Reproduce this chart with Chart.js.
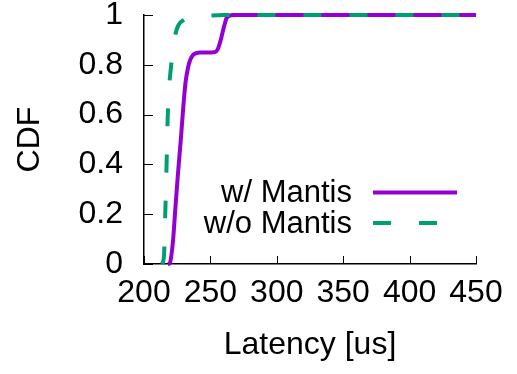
<!DOCTYPE html>
<html>
<head>
<meta charset="utf-8">
<script src="https://cdn.jsdelivr.net/npm/chart.js@4.4.1/dist/chart.umd.min.js"></script>
<style>
  html, body { margin: 0; padding: 0; background: #fff; }
  #wrap { width: 517px; height: 374px; }
</style>
</head>
<body>
<div id="wrap"><canvas id="chartCdf" width="517" height="374"></canvas></div>
<script>
// dados
const latComMantis = [218, 219.4, 220.5, 221.9, 223.7, 225.6, 227.7, 229.4, 231.2, 233.2, 235, 237, 239.5, 242, 247, 253.3, 255.5, 257, 258.5, 259.6, 261, 262.1, 264.5, 267, 450];
const cdfComMantis = [0, 0.003, 0.03, 0.096, 0.23, 0.364, 0.498, 0.618, 0.726, 0.79, 0.822, 0.84, 0.847, 0.849, 0.849, 0.851, 0.862, 0.885, 0.915, 0.94, 0.968, 0.987, 0.997, 1, 1];

const latSemMantis = [213.5, 215, 216, 217, 217.8, 218.8, 220.3, 222, 224, 226, 230, 236, 245, 260, 450];
const cdfSemMantis = [0, 0.03, 0.2, 0.4, 0.58, 0.7, 0.79, 0.87, 0.93, 0.96, 0.98, 0.99, 0.995, 1, 1];

const nomesSeries = ["w/ Mantis", "w/o Mantis"];
const ticksX = [200, 250, 300, 350, 400, 450];
const ticksY = [0, 0.2, 0.4, 0.6, 0.8, 1];

const fonte = "'Liberation Sans', Arial, sans-serif";

function pontos(xs, ys) {
    return xs.map((x, i) => ({ x: x, y: ys[i] }));
}

// ticks para dentro, como no gnuplot
const ticksInternos = {
    id: "ticksInternos",
    afterDraw(chart) {
        const ctx = chart.ctx;
        const area = chart.chartArea;
        const sx = chart.scales.x;
        const sy = chart.scales.y;
        ctx.save();
        ctx.strokeStyle = "#000";
        ctx.lineWidth = 1;
        ticksY.forEach((v) => {
            const py = Math.round(sy.getPixelForValue(v)) + 0.5;
            ctx.beginPath();
            ctx.moveTo(area.left, py);
            ctx.lineTo(area.left + 9, py);
            ctx.stroke();
        });
        ticksX.forEach((v) => {
            const px = Math.round(sx.getPixelForValue(v)) + 0.5;
            ctx.beginPath();
            ctx.moveTo(px, area.bottom);
            ctx.lineTo(px, area.bottom - 8);
            ctx.stroke();
        });
        ctx.restore();
    },
};

// legenda no estilo gnuplot: texto à direita alinhado, amostra da linha depois
const legendaGnuplot = {
    id: "legendaGnuplot",
    afterDraw(chart) {
        const ctx = chart.ctx;
        const linhas = [192.5, 223];
        ctx.save();
        ctx.font = "31px " + fonte;
        ctx.textAlign = "right";
        ctx.textBaseline = "middle";
        chart.data.datasets.forEach((ds, i) => {
            const y = linhas[i];
            ctx.fillStyle = "#000";
            ctx.fillText(ds.label, 352, y + 1);
            ctx.strokeStyle = ds.borderColor;
            ctx.lineWidth = ds.borderWidth;
            ctx.setLineDash(ds.borderDash || []);
            ctx.beginPath();
            ctx.moveTo(373, y);
            ctx.lineTo(457, y);
            ctx.stroke();
            ctx.setLineDash([]);
        });
        ctx.restore();
    },
};

const ctxC = document.getElementById("chartCdf");

new Chart(ctxC, {
    type: "line",
    data: {
        datasets: [
            {
                label: nomesSeries[0],
                data: pontos(latComMantis, cdfComMantis),
                borderColor: "#9400d3",
                borderWidth: 4,
                pointRadius: 0,
                cubicInterpolationMode: "monotone",
                clip: false,
                order: 1,
            },
            {
                label: nomesSeries[1],
                data: pontos(latSemMantis, cdfSemMantis),
                borderColor: "#009e73",
                borderWidth: 4,
                borderDash: [18, 28],
                pointRadius: 0,
                cubicInterpolationMode: "monotone",
                clip: false,
                order: 0,
            },
        ],
    },
    options: {
        responsive: false,
        animation: false,
        layout: {
            padding: { top: 15, right: 41, left: 0, bottom: 0 },
        },
        plugins: {
            legend: { display: false },
            tooltip: { enabled: false },
        },
        scales: {
            x: {
                type: "linear",
                min: 200,
                max: 450,
                afterBuildTicks: (s) => { s.ticks = ticksX.map((v) => ({ value: v })); },
                afterFit: (s) => { s.height = 110; s.paddingLeft = 0; s.paddingRight = 0; },
                grid: { display: false, drawTicks: false },
                border: { display: true, color: "#000", width: 1.5 },
                ticks: {
                    color: "#000",
                    padding: 10,
                    maxRotation: 0,
                    font: { family: fonte, size: 32 },
                },
                title: {
                    display: true,
                    text: "Latency [us]",
                    color: "#000",
                    font: { family: fonte, size: 32 },
                    padding: { top: 0, bottom: 10 },
                },
            },
            y: {
                min: 0,
                max: 1,
                afterBuildTicks: (s) => { s.ticks = ticksY.map((v) => ({ value: v })); },
                afterFit: (s) => { s.width = 144; s.paddingTop = 0; s.paddingBottom = 0; },
                grid: { display: false, drawTicks: false },
                border: { display: true, color: "#000", width: 1.5 },
                ticks: {
                    color: "#000",
                    padding: 21,
                    font: { family: fonte, size: 32 },
                    callback: (v) => String(+Number(v).toFixed(1)),
                },
                title: {
                    display: true,
                    text: "CDF",
                    color: "#000",
                    font: { family: fonte, size: 32 },
                    padding: { top: 11, bottom: 0 },
                },
            },
        },
    },
    plugins: [ticksInternos, legendaGnuplot],
});
</script>
</body>
</html>
